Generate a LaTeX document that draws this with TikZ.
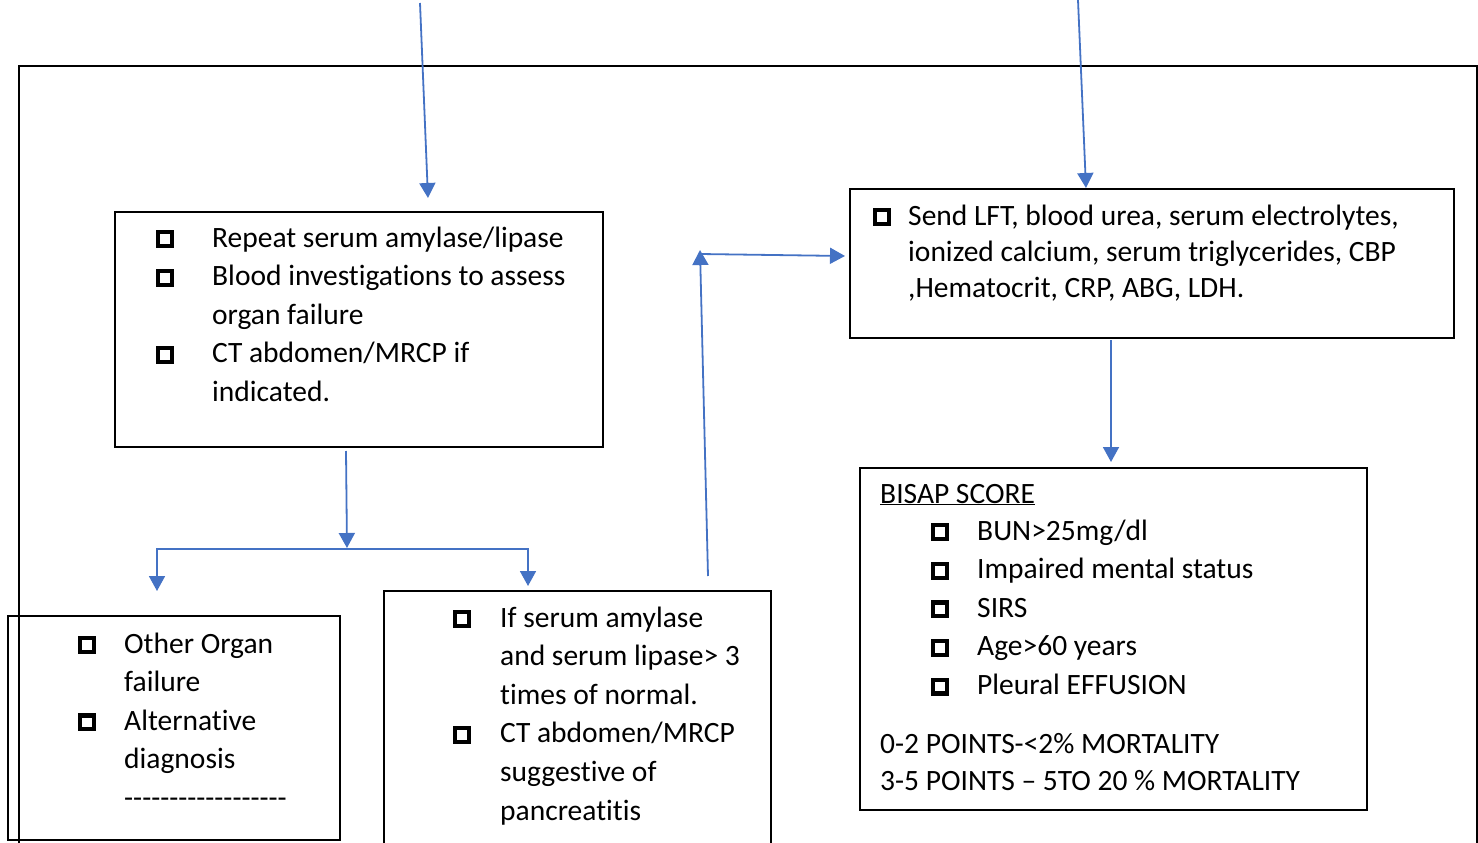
\documentclass[tikz,border=0pt]{standalone}
\usepackage{fontspec}
\setmainfont{Carlito}[Ligatures={TeX,NoCommon}]
\usetikzlibrary{arrows.meta}
\usetikzlibrary{calc}
\definecolor{flowblue}{RGB}{68,114,196}
\newcommand\tickbox{\raisebox{3pt}{\setlength\fboxrule{4.2pt}\setlength\fboxsep{0pt}\fbox{\rule{0pt}{9.6pt}\rule{9.6pt}{0pt}}}}
\tikzset{
  box/.style={draw, line width=1.6pt, anchor=north west, inner sep=0pt, outer sep=0pt},
  txt/.style={anchor=base west, inner sep=0pt, font=\fontsize{29.5}{38.6}\selectfont},
  flow/.style={draw=flowblue, line width=1.8pt},
  tip/.style={-{Triangle[width=16pt,length=15pt]}},
  tips/.style={{Triangle[width=16pt,length=15pt]}-{Triangle[width=16pt,length=15pt]}},
}

\begin{document}
\begin{tikzpicture}[x=1pt,y=-1pt]
  \useasboundingbox (0,0) rectangle (1478,843);
  \clip (0,0) rectangle (1478,843);
  % frame
  \draw[line width=1.6pt] (19,66) rectangle (1477,880);
  % boxes
  \node[box, minimum width=488pt, minimum height=235pt] (repeat) at (115,212) {};
  \node[box, minimum width=604pt, minimum height=149pt] (send) at (850,189) {};
  \node[box, minimum width=332pt, minimum height=224pt] (other) at (8,616) {};
  \node[box, minimum width=387pt, minimum height=290pt] (serum) at (384,591) {};
  \node[box, minimum width=507pt, minimum height=342pt] (bisap) at (860,468) {};
  % texts
  \node[txt] (repeattxt) at (156,247) {\begin{tabular}[t]{@{}p{56pt}@{}l@{}}
    \tickbox & Repeat serum amylase/lipase\\
    \tickbox & Blood investigations to assess\\
             & organ failure\\
    \tickbox & CT abdomen/MRCP if\\
             & indicated.
  \end{tabular}};
  \node[txt, font=\fontsize{29.5}{36}\selectfont] (sendtxt) at (873,225) {\begin{tabular}[t]{@{}p{35pt}@{}l@{}}
    \tickbox & Send LFT, blood urea, serum electrolytes,\\
             & ionized calcium, serum triglycerides, CBP\\
             & ,Hematocrit, CRP, ABG, LDH.
  \end{tabular}};
  \node[txt] (othertxt) at (78,653) {\begin{tabular}[t]{@{}p{46pt}@{}l@{}}
    \tickbox & Other Organ\\
             & failure\\
    \tickbox & Alternative\\
             & diagnosis\\
             & -{}-{}-{}-{}-{}-{}-{}-{}-{}-{}-{}-{}-{}-{}-{}-{}-{}-
  \end{tabular}};
  \node[txt] (serumtxt) at (453,627) {\begin{tabular}[t]{@{}p{47pt}@{}l@{}}
    \tickbox & If serum amylase\\
             & and serum lipase> 3\\
             & times of normal.\\
    \tickbox & CT abdomen/MRCP\\
             & suggestive of\\
             & pancreatitis
  \end{tabular}};
  \node[txt] (bisaptitle) at (880,503) {\underline{BISAP SCORE}};
  \node[txt] (bisaptxt) at (931,540) {\begin{tabular}[t]{@{}p{46pt}@{}l@{}}
    \tickbox & BUN>25mg/dl\\
    \tickbox & Impaired mental status\\
    \tickbox & SIRS\\
    \tickbox & Age>60 years\\
    \tickbox & Pleural EFFUSION
  \end{tabular}};
  \node[txt, font=\fontsize{29.5}{37}\selectfont] (mortality) at (880,753) {\begin{tabular}[t]{@{}l@{}}
    0-2 POINTS-<2\% MORTALITY\\
    3-5 POINTS – 5TO 20 \% MORTALITY
  \end{tabular}};
  % connectors
  \coordinate (srcL) at (420,3);
  \coordinate (srcR) at (1078,0);
  \coordinate (fork) at ($(repeat.south west)+(232,101)$);
  \coordinate (bend) at (700,254);
  \draw[flow,tip] (srcL) -- ($(repeat.north west)+(313,-14)$);
  \draw[flow,tip] (srcR) -- ($(send.north west)+(236,-1)$);
  \draw[flow,tip] ($(repeat.south west)+(231,4)$) -- (fork);
  \draw[flow,tips] ($(other.north west)+(149,-25)$) -- ++(0,-42) -| ($(serum.north west)+(144,-5)$);
  \draw[flow,tip] ($(serum.north west)+(324,-15)$) -- ($(bend)+(0,-4)$);
  \draw[flow,tip] (bend) -- ($(send.north west)+(-5,67)$);
  \draw[flow,tip] ($(send.south west)+(261,2)$) -- ($(bisap.north west)+(251,-6)$);
\end{tikzpicture}
\end{document}
